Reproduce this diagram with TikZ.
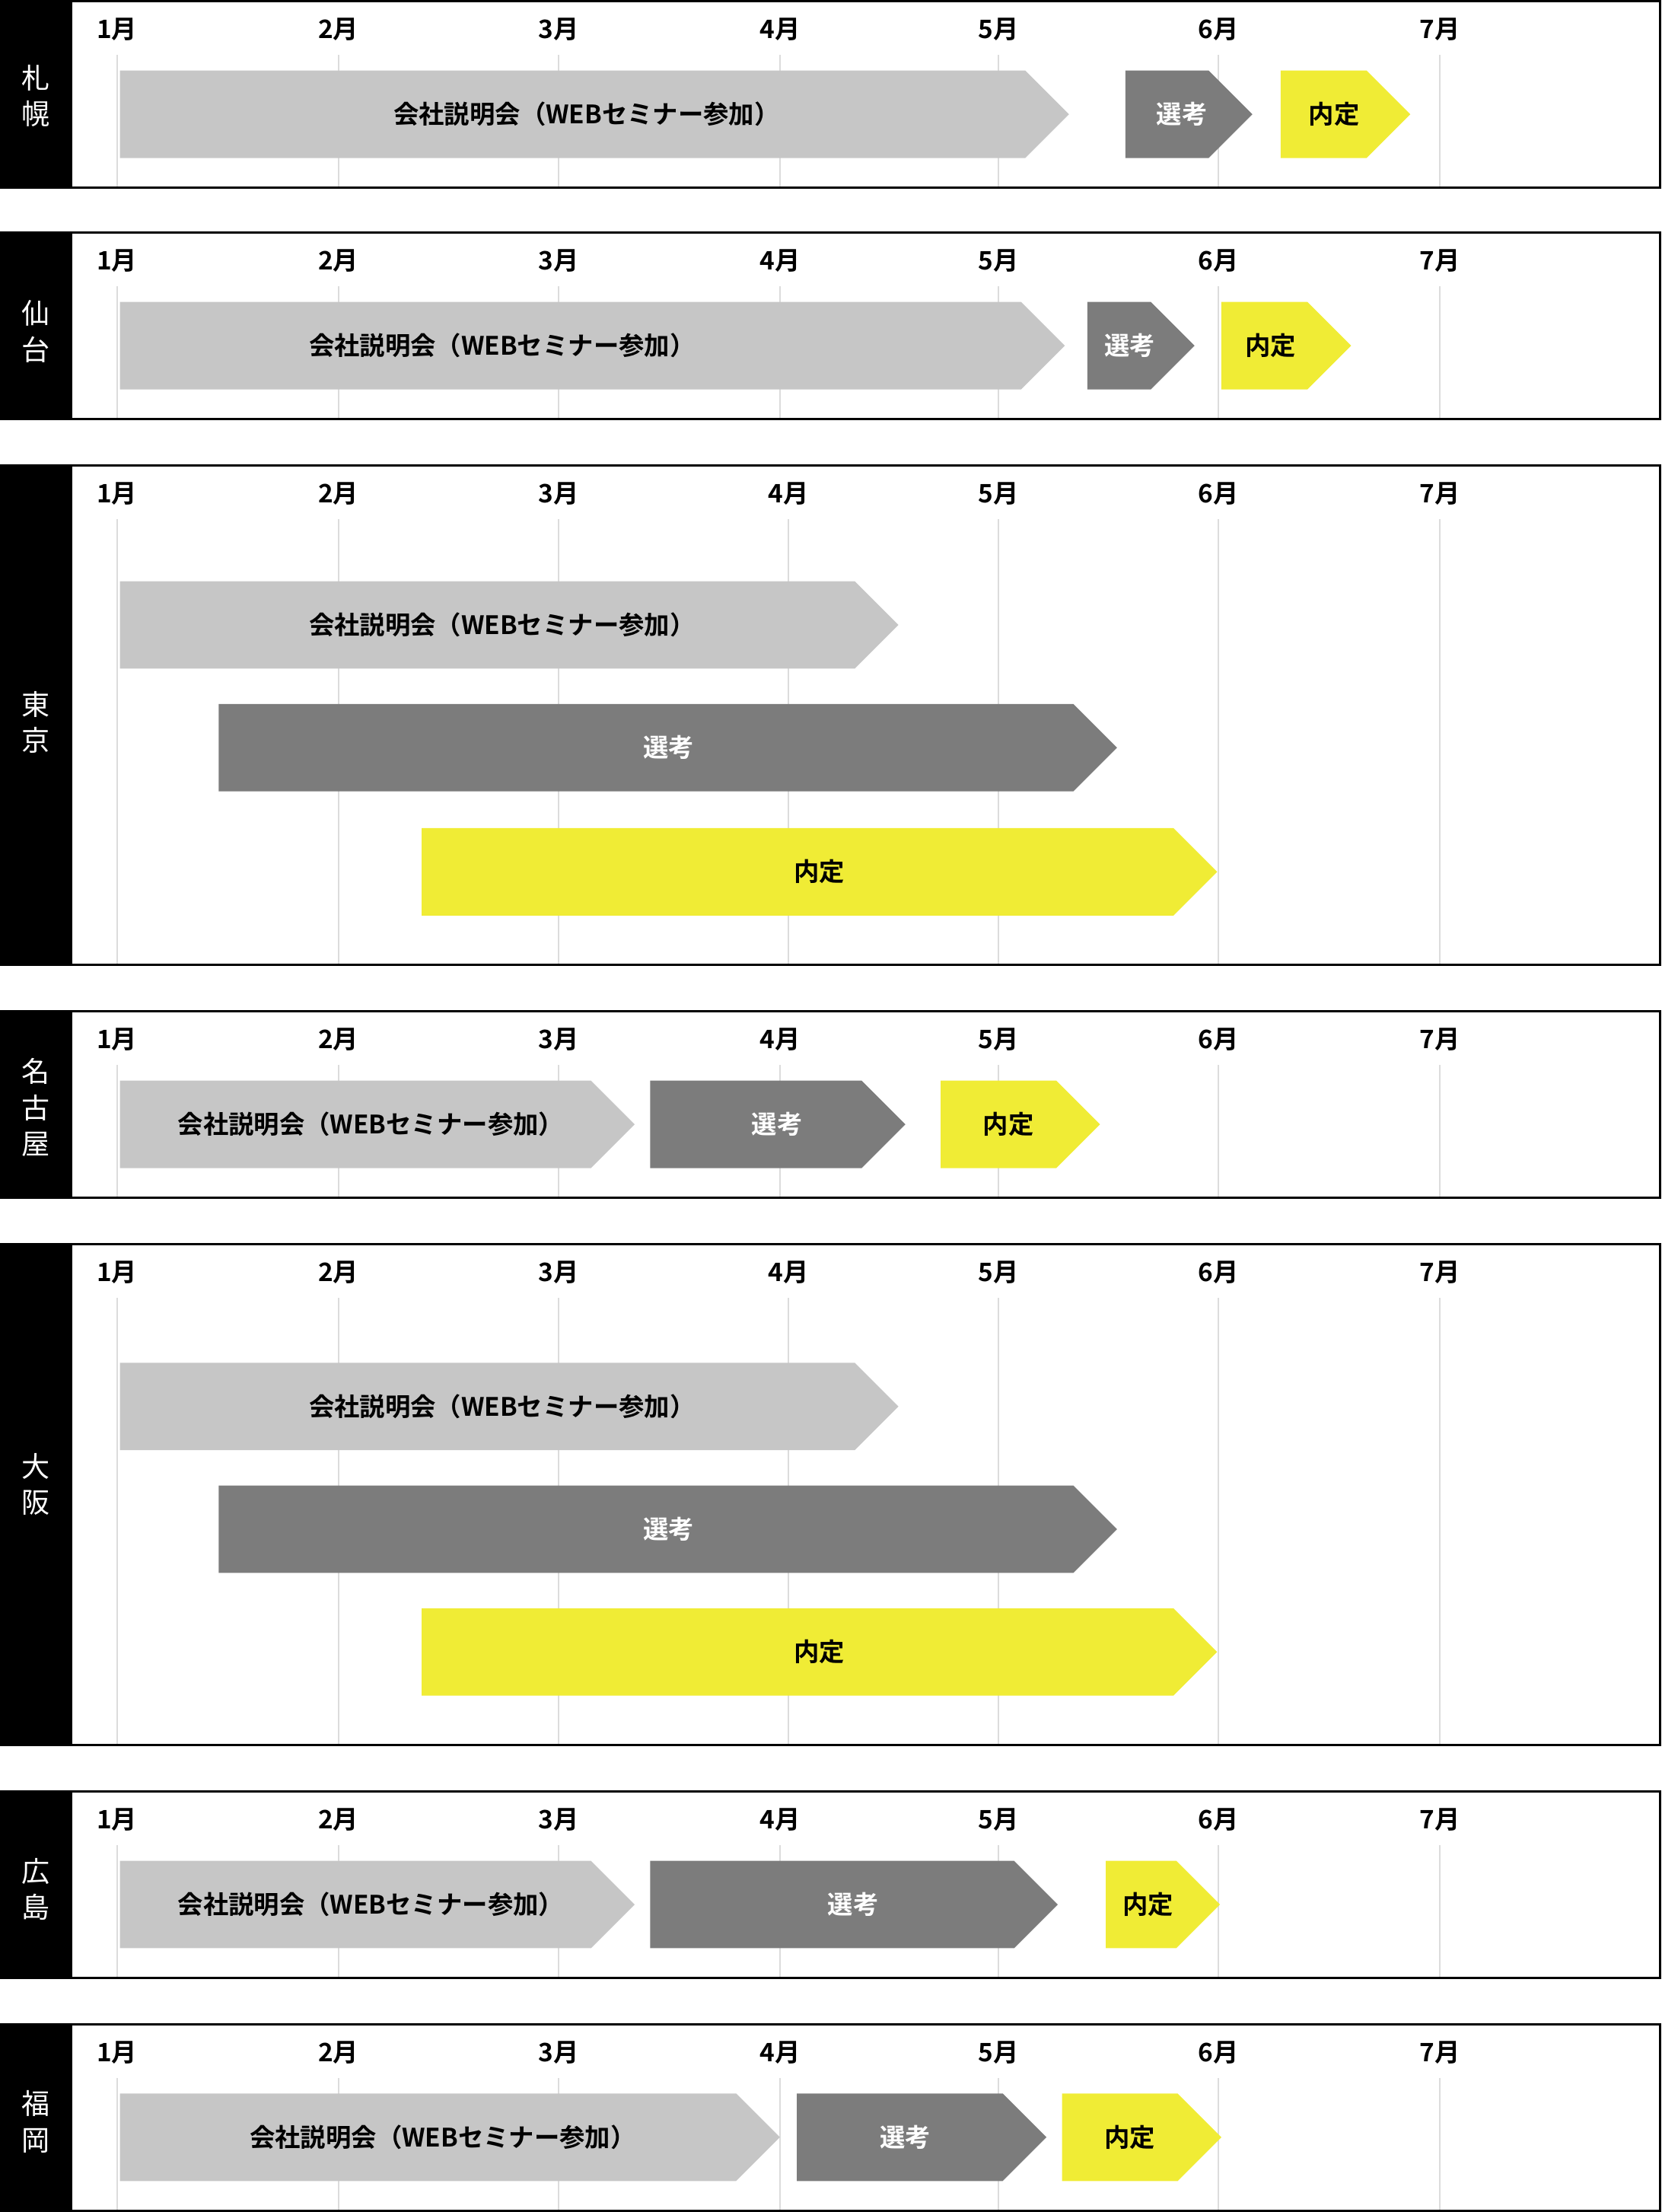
\documentclass[tikz,border=0pt]{standalone}
\usepackage{fontspec}
\newfontfamily\jpfont{Noto Sans CJK JP}[BoldFont={* Bold}]

\definecolor{barlight}{HTML}{C6C6C6}
\definecolor{bardark}{HTML}{7C7C7C}
\definecolor{baryellow}{HTML}{F0EC35}
\definecolor{gridgray}{HTML}{DCDCDC}

% one city block: top, bottom, city name, y of city name, x of April
\newcommand{\citypanel}[5]{%
  \fill[black] (0,#1) rectangle (51,#2);
  \foreach \m/\x in {1/83,2/240,3/396,4/#5,5/708,6/864,7/1021}{
    \draw[gridline] (\x,#1+38) -- (\x,#2);
    \node[monthlabel] (m\m-#1) at (\x,#1+20) {\m 月};
  }
  \draw[frame] (0,#1) rectangle (1177,#2);
  \node[city] (city-#1) at (25.5,#4) {#3};
}

% one phase arrow: style, left x, tip x, centre y, text x, name, text
\newcommand{\phasebar}[7]{%
  \fill[#1] (#2,#4-31) -- (#3-31,#4-31) -- (#3,#4) -- (#3-31,#4+31) -- (#2,#4+31) -- cycle;
  \node[#1 text] (#6) at (#5,#4) {#7};
}

\begin{document}
\begin{tikzpicture}[x=1pt, y=-1pt,
  gridline/.style={draw=gridgray, line width=0.9pt},
  frame/.style={draw=black, line width=1.6pt},
  monthlabel/.style={font=\jpfont\bfseries\fontsize{18}{18}\selectfont},
  city/.style={text=white, align=center, font=\jpfont\fontsize{20}{25.5}\selectfont},
  setsumei/.style={fill=barlight},
  senko/.style={fill=bardark},
  naitei/.style={fill=baryellow},
  setsumei text/.style={text=black, font=\jpfont\bfseries\fontsize{18}{18}\selectfont},
  senko text/.style={text=white, font=\jpfont\bfseries\fontsize{18}{18}\selectfont},
  naitei text/.style={text=black, font=\jpfont\bfseries\fontsize{18}{18}\selectfont}]

\useasboundingbox (0,0) rectangle (1178,1568);

\citypanel{1}{133}{札\\幌}{68}{553}
\citypanel{165}{297}{仙\\台}{235}{553}
\citypanel{330}{684}{東\\京}{512}{559}
\citypanel{717}{849}{名\\古\\屋}{785}{553}
\citypanel{882}{1237}{大\\阪}{1052}{559}
\citypanel{1270}{1402}{広\\島}{1339}{553}
\citypanel{1435}{1567}{福\\岡}{1504}{553}

% 札幌
\phasebar{setsumei}{85}{758}{81}{416}{sap-s}{会社説明会（WEBセミナー参加）}
\phasebar{senko}{798}{888}{81}{838}{sap-k}{選考}
\phasebar{naitei}{908}{1000}{81}{946}{sap-n}{内定}

% 仙台
\phasebar{setsumei}{85}{755}{245}{356}{sen-s}{会社説明会（WEBセミナー参加）}
\phasebar{senko}{771}{847}{245}{801}{sen-k}{選考}
\phasebar{naitei}{866}{958}{245}{901}{sen-n}{内定}

% 東京
\phasebar{setsumei}{85}{637}{443}{356}{tok-s}{会社説明会（WEBセミナー参加）}
\phasebar{senko}{155}{792}{530}{474}{tok-k}{選考}
\phasebar{naitei}{299}{863}{618}{581}{tok-n}{内定}

% 名古屋
\phasebar{setsumei}{85}{450}{797}{263}{nag-s}{会社説明会（WEBセミナー参加）}
\phasebar{senko}{461}{642}{797}{551}{nag-k}{選考}
\phasebar{naitei}{667}{780}{797}{715}{nag-n}{内定}

% 大阪
\phasebar{setsumei}{85}{637}{997}{356}{osa-s}{会社説明会（WEBセミナー参加）}
\phasebar{senko}{155}{792}{1084}{474}{osa-k}{選考}
\phasebar{naitei}{299}{863}{1171}{581}{osa-n}{内定}

% 広島
\phasebar{setsumei}{85}{450}{1350}{263}{hir-s}{会社説明会（WEBセミナー参加）}
\phasebar{senko}{461}{750}{1350}{605}{hir-k}{選考}
\phasebar{naitei}{784}{865}{1350}{814}{hir-n}{内定}

% 福岡
\phasebar{setsumei}{85}{553}{1515}{314}{fuk-s}{会社説明会（WEBセミナー参加）}
\phasebar{senko}{565}{742}{1515}{642}{fuk-k}{選考}
\phasebar{naitei}{753}{866}{1515}{801}{fuk-n}{内定}

\end{tikzpicture}
\end{document}
